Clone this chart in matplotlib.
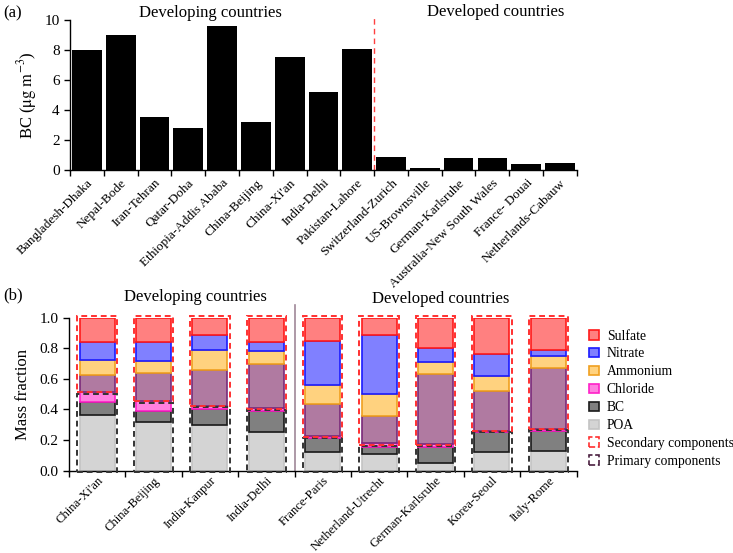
import numpy as np
import matplotlib
matplotlib.use('Agg')
import matplotlib.pyplot as plt
from matplotlib.patches import Rectangle, Patch

plt.rcParams['font.family'] = ['Liberation Serif', 'DejaVu Serif']
plt.rcParams['mathtext.fontset'] = 'stix'

# panel (a): BC concentrations
sites_a = ['Bangladesh-Dhaka', 'Nepal-Bode', 'Iran-Tehran', 'Qatar-Doha',
           'Ethiopia-Addis Ababa', 'China-Beijing', "China-Xi'an", 'India-Delhi',
           'Pakistan-Lahore', 'Switzerland-Zurich', 'US-Brownsville',
           'German-Karlsruhe', 'Australia-New South Wales', 'France- Douai',
           'Netherlands-Cabauw']
bc_conc = [8.0, 9.0, 3.56, 2.82, 9.62, 3.18, 7.56, 5.22, 8.1,
           0.89, 0.16, 0.78, 0.78, 0.38, 0.49]
n_developing_a = 9

# panel (b): mass fractions
sites_b = ["China-Xi'an", 'China-Beijing', 'India-Kanpur', 'India-Delhi',
           'France-Paris', 'Netherland-Utrecht', 'German-Karlsruhe',
           'Korea-Seoul', 'Italy-Rome']
poa = [0.364, 0.32, 0.30, 0.255, 0.12, 0.109, 0.052, 0.124, 0.13]
bc = [0.083, 0.07, 0.10, 0.138, 0.09, 0.048, 0.105, 0.126, 0.13]
chloride = [0.069, 0.066, 0.025, 0.017, 0.018, 0.023, 0.015, 0.01, 0.01]
soa = [0.109, 0.184, 0.235, 0.29, 0.207, 0.18, 0.458, 0.26, 0.40]
ammonium = [0.099, 0.08, 0.13, 0.08, 0.127, 0.14, 0.08, 0.10, 0.08]
nitrate = [0.119, 0.123, 0.10, 0.063, 0.286, 0.39, 0.09, 0.14, 0.04]
sulfate = [0.157, 0.157, 0.11, 0.157, 0.152, 0.11, 0.20, 0.24, 0.21]
primary_top = [0.50, 0.44, 0.415, 0.395, 0.215, 0.16, 0.16, 0.255, 0.265]
secondary_bottom = [0.516, 0.457, 0.425, 0.405, 0.22, 0.17, 0.17, 0.26, 0.27]
n_developing_b = 4

fig = plt.figure(figsize=(7.33, 5.53), dpi=100)

def style_axes(ax, n, labelsize=9.5):
    ax.spines['top'].set_visible(False)
    ax.spines['right'].set_visible(False)
    ax.spines['left'].set_linewidth(1.0)
    ax.spines['bottom'].set_linewidth(1.0)
    ax.set_xlim(-0.5, n - 0.5)
    ax.set_xticks(np.arange(n + 1) - 0.5, minor=True)
    ax.set_xticks(np.arange(n))
    ax.tick_params(axis='x', which='major', length=0, labelsize=labelsize, pad=5)
    ax.tick_params(axis='x', which='minor', length=4, width=1.0, direction='out')
    ax.tick_params(axis='y', length=4, width=1.0, labelsize=11)

# ---- panel (a)
ax1 = fig.add_axes([0.0955, 0.6926, 0.6915, 0.2712])
x = np.arange(len(sites_a))
ax1.bar(x, bc_conc, width=0.88, color='black')
ax1.set_ylim(0, 10)
ax1.set_yticks([0, 2, 4, 6, 8, 10])
style_axes(ax1, len(sites_a))
ax1.set_xticklabels(sites_a, rotation=45, ha='right', rotation_mode='anchor')
ax1.set_ylabel(r'BC ($\mathrm{\mu g\ m^{-3}}$)', fontsize=12, labelpad=4)
ax1.axvline(n_developing_a - 0.5, ymin=0, ymax=1.02, color='#ff4040',
            linestyle=(0, (4, 3)), linewidth=1.0, clip_on=False)
ax1.text(3.67, 10.5, 'Developing countries', ha='center', va='center', fontsize=12)
ax1.text(12.1, 10.55, 'Developed countries', ha='center', va='center', fontsize=12)
fig.text(0.005, 0.975, '(a)', fontsize=12, ha='left', va='center')

# ---- panel (b)
ax2 = fig.add_axes([0.094, 0.149, 0.6925, 0.2765])
xb = np.arange(len(sites_b))
layers = [
    (poa, '#d4d4d4', '#c4c4c4', 'POA'),
    (bc, '#808080', '#1a1a1a', 'BC'),
    (chloride, '#ff80e0', '#ff20c8', 'Chloride'),
    (soa, '#b07aa1', '#7a2a7a', None),
    (ammonium, '#ffd27f', '#f0a020', 'Ammonium'),
    (nitrate, '#8080ff', '#1a1aff', 'Nitrate'),
    (sulfate, '#ff8080', '#ff1a1a', 'Sulfate'),
]
bottom = np.zeros(len(sites_b))
handles = {}
for vals, fc, ec, name in layers:
    ax2.bar(xb, vals, bottom=bottom, width=0.62, color=fc, edgecolor=ec,
            linewidth=1.2, zorder=2)
    bottom = bottom + np.array(vals)
    if name:
        handles[name] = Patch(facecolor=fc, edgecolor=ec, linewidth=1.2)

bw = 0.70
for i in range(len(sites_b)):
    ax2.add_patch(Rectangle((xb[i] - bw / 2, -0.006), bw, primary_top[i] + 0.006,
                            fill=False, edgecolor='#333333', linestyle=(0, (3, 2)),
                            linewidth=1.4, zorder=3, clip_on=False))
    ax2.add_patch(Rectangle((xb[i] - bw / 2, secondary_bottom[i]), bw,
                            1.01 - secondary_bottom[i], fill=False,
                            edgecolor='#ff3030', linestyle=(0, (3, 2)),
                            linewidth=1.4, zorder=3, clip_on=False))

ax2.set_ylim(0, 1.0)
ax2.set_yticks([0.0, 0.2, 0.4, 0.6, 0.8, 1.0])
ax2.set_yticklabels(['0.0', '0.2', '0.4', '0.6', '0.8', '1.0'])
style_axes(ax2, len(sites_b), labelsize=9.1)
ax2.tick_params(axis='x', which='major', pad=3)
ax2.set_xticklabels(sites_b, rotation=45, ha='right', rotation_mode='anchor')
ax2.set_ylabel('Mass fraction', fontsize=12, labelpad=6)
ax2.axvline(n_developing_b - 0.5, ymin=0, ymax=1.08, color='#a08898',
            linewidth=1.2, clip_on=False)
ax2.text(1.74, 1.135, 'Developing countries', ha='center', va='center', fontsize=12)
ax2.text(6.1, 1.122, 'Developed countries', ha='center', va='center', fontsize=12)
fig.text(0.005, 0.466, '(b)', fontsize=12, ha='left', va='center')

leg_handles = [handles['Sulfate'], handles['Nitrate'], handles['Ammonium'],
               handles['Chloride'], handles['BC'], handles['POA'],
               Patch(facecolor='none', edgecolor='#ff3030', linestyle='--', linewidth=1.2),
               Patch(facecolor='none', edgecolor='#4a1f40', linestyle='--', linewidth=1.2)]
leg_labels = ['Sulfate', 'Nitrate', 'Ammonium', 'Chloride', 'BC', 'POA',
              'Secondary components', 'Primary components']
fig.legend(leg_handles, leg_labels, loc='upper left', bbox_to_anchor=(0.803, 0.404),
           frameon=False, fontsize=9.8, handlelength=0.8, handleheight=0.7,
           labelspacing=0.36, handletextpad=0.55, borderaxespad=0, borderpad=0)

plt.savefig('out.png', dpi=100)
